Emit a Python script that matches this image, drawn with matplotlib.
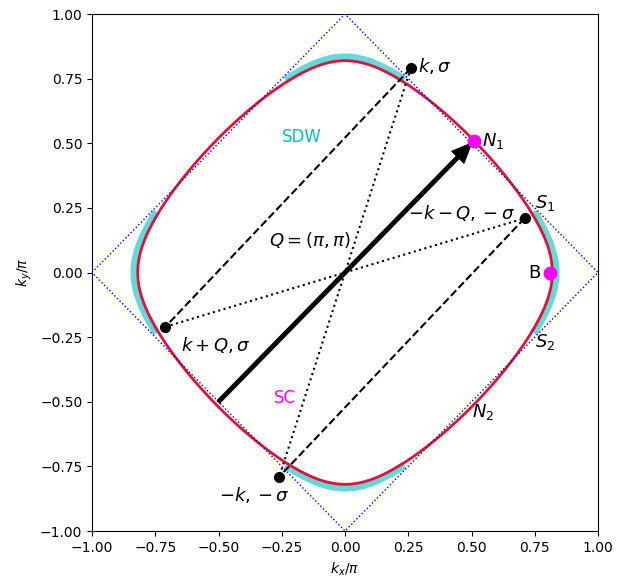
"""Fermi surface with SDW / SC hot spots and nesting vector Q."""

import numpy as np
import matplotlib.pyplot as plt

# band parameters (units of t)
tp = 0.13      # next-nearest hopping
mu = 0.125     # chemical potential for the Fermi surface
mu_sdw = 0.18  # slightly larger level for the SDW band

# half-width of each SDW segment along the side it sits on (units of pi)
sdw_half = 0.235

# momenta of the marked states (units of pi)
k_pts = {
    'k': (0.26, 0.79),
    'mk': (-0.26, -0.79),
    'kQ': (-0.71, -0.21),
    'mkQ': (0.71, 0.21),
}
magenta_pts = [(0.51, 0.51), (0.81, 0.0)]
arrow_tail = (-0.5, -0.5)
arrow_head = (0.5, 0.5)

ticks = [-1.0, -0.75, -0.5, -0.25, 0.0, 0.25, 0.5, 0.75, 1.0]


def energy(kx, ky, level):
    return (-2 * (np.cos(kx) + np.cos(ky))
            - 4 * tp * np.cos(kx) * np.cos(ky) - level)


def side_k(ky, level):
    # kx on the Fermi line for given ky, units of pi
    c = -(level + 2 * np.cos(ky)) / (2 + 4 * tp * np.cos(ky))
    return np.arccos(np.clip(c, -1, 1)) / np.pi


fig = plt.figure(figsize=(6.23, 5.77), dpi=100)
ax = fig.add_axes([0.1477, 0.0797, 0.8122, 0.896])

# SDW segments (cyan band)
t = np.linspace(-sdw_half, sdw_half, 100)
kk = side_k(t * np.pi, mu_sdw)
for s in (1, -1):
    ax.plot(s * kk, t, color='c', alpha=0.6, lw=5.5, solid_capstyle='butt',
            zorder=1)
    ax.plot(t, s * kk, color='c', alpha=0.6, lw=5.5, solid_capstyle='butt',
            zorder=1)

# Fermi surface
g = np.linspace(-1, 1, 801)
KX, KY = np.meshgrid(g, g)
ax.contour(KX, KY, energy(KX * np.pi, KY * np.pi, mu), levels=[0],
           colors='crimson', linewidths=2, zorder=2)

# magnetic zone boundary
ax.plot([-1, 0, 1, 0, -1], [0, 1, 0, -1, 0], color='b', ls=':', lw=1,
        zorder=3)

# nesting / pairing lines
k, mk, kQ, mkQ = k_pts['k'], k_pts['mk'], k_pts['kQ'], k_pts['mkQ']
ax.plot([k[0], kQ[0]], [k[1], kQ[1]], 'k--', lw=1.5, zorder=4)
ax.plot([mkQ[0], mk[0]], [mkQ[1], mk[1]], 'k--', lw=1.5, zorder=4)
ax.plot([k[0], mk[0]], [k[1], mk[1]], 'k:', lw=1.5, zorder=4)
ax.plot([kQ[0], mkQ[0]], [kQ[1], mkQ[1]], 'k:', lw=1.5, zorder=4)

ax.annotate('', xy=arrow_head, xytext=arrow_tail,
            arrowprops=dict(facecolor='black', edgecolor='black', width=2.5,
                            headwidth=12, headlength=14, shrink=0),
            zorder=5)

for p in k_pts.values():
    ax.plot(*p, 'o', color='black', ms=7, zorder=6)
for p in magenta_pts:
    ax.plot(*p, 'o', color='magenta', ms=9, zorder=6)

fs = 13
ax.text(0.29, 0.80, r'$k,\sigma$', fontsize=fs, va='center')
ax.text(0.54, 0.51, r'$N_1$', fontsize=fs, va='center')
ax.text(0.75, 0.27, r'$S_1$', fontsize=fs, va='center')
ax.text(0.725, 0.0, 'B', fontsize=fs, va='center')
ax.text(0.75, -0.27, r'$S_2$', fontsize=fs, va='center')
ax.text(0.5, -0.54, r'$N_2$', fontsize=fs, va='center')
ax.text(0.25, 0.23, r'$-k-Q,-\sigma$', fontsize=fs, va='center')
ax.text(-0.30, 0.125, r'$Q=(\pi,\pi)$', fontsize=fs, va='center')
ax.text(-0.65, -0.28, r'$k+Q,\sigma$', fontsize=fs, va='center')
ax.text(-0.50, -0.86, r'$-k,-\sigma$', fontsize=fs, va='center')
ax.text(-0.25, 0.525, 'SDW', color='c', fontsize=12, va='center')
ax.text(-0.28, -0.485, 'SC', color='magenta', fontsize=12, va='center')

ax.set_xlim(-1, 1)
ax.set_ylim(-1, 1)
ax.set_xticks(ticks)
ax.set_yticks(ticks)
ax.set_xlabel(r'$k_x/\pi$')
ax.set_ylabel(r'$k_y/\pi$')

fig.savefig('out.png', dpi=100)
